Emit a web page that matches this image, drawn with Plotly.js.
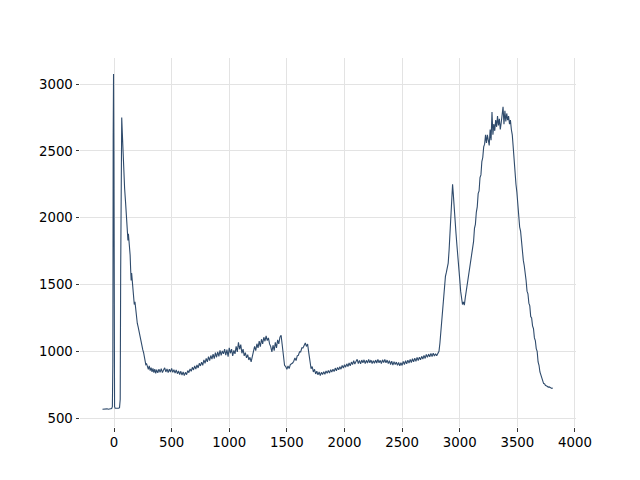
<!DOCTYPE html>
<html>
<head>
<meta charset="utf-8">
<script src="https://cdn.plot.ly/plotly-3.0.1.min.js"></script>
<style>html,body{margin:0;padding:0;background:#fff;}#chart{width:640px;height:480px;}</style>
</head>
<body>
<div id="chart"></div>
<script>
const wavenumber = [
-100,-90,-80,-70,-60,-50,-40,-30,-20,-14,
-10,-7,-4,-1,2,5,10,20,30,40,
48,54,58,62,67,72,78,85,92,100,
108,114,118,121,125,129,134,140,145,149,
153,158,164,170,176,182,188,195,202,210,
218,226,234,242,250,257,264,270,276,283,
290,298,306,314,322,330,338,346,354,362,
370,380,390,400,410,420,430,440,450,460,
470,480,490,500,510,520,530,540,550,560,
570,580,590,600,610,620,630,640,650,660,
670,680,690,700,710,720,730,740,750,760,
770,780,790,800,810,820,830,840,850,860,
870,880,890,900,910,920,930,940,950,960,
970,980,990,1000,1010,1020,1030,1040,1050,1060,
1070,1080,1090,1100,1110,1120,1130,1140,1150,1160,
1170,1180,1190,1200,1210,1220,1230,1240,1250,1260,
1270,1280,1290,1300,1310,1320,1330,1340,1350,1360,
1370,1380,1390,1400,1410,1420,1430,1440,1450,1458,
1465,1472,1480,1490,1500,1510,1520,1530,1540,1550,
1560,1570,1580,1590,1600,1610,1620,1630,1640,1650,
1660,1670,1680,1690,1700,1710,1720,1730,1740,1750,
1760,1770,1780,1790,1800,1810,1820,1830,1840,1850,
1860,1870,1880,1890,1900,1910,1920,1930,1940,1950,
1960,1970,1980,1990,2000,2010,2020,2030,2040,2050,
2060,2070,2080,2090,2100,2110,2120,2130,2140,2150,
2160,2170,2180,2190,2200,2210,2220,2230,2240,2250,
2260,2270,2280,2290,2300,2310,2320,2330,2340,2350,
2360,2370,2380,2390,2400,2410,2420,2430,2440,2450,
2460,2470,2480,2490,2500,2510,2520,2530,2540,2550,
2560,2570,2580,2590,2600,2610,2620,2630,2640,2650,
2660,2670,2680,2690,2700,2710,2720,2730,2740,2750,
2760,2770,2780,2790,2800,2810,2820,2828,2836,2844,
2852,2860,2868,2876,2884,2892,2900,2908,2914,2920,
2926,2932,2938,2944,2950,2956,2962,2968,2976,2984,
2992,3000,3008,3016,3024,3032,3040,3048,3056,3064,
3072,3080,3088,3096,3104,3112,3120,3128,3136,3144,
3152,3160,3168,3176,3184,3192,3200,3208,3216,3224,
3232,3240,3248,3256,3264,3272,3280,3288,3296,3304,
3312,3320,3328,3336,3344,3352,3360,3368,3376,3384,
3392,3400,3408,3416,3424,3432,3440,3448,3456,3464,
3472,3480,3488,3496,3504,3512,3520,3528,3536,3544,
3552,3560,3568,3576,3584,3592,3600,3608,3616,3624,
3632,3640,3648,3656,3664,3672,3680,3688,3696,3704,
3712,3720,3728,3736,3744,3752,3760,3768,3776,3784,
3792,3800,3808
];
const intensity = [
566,568,565,567,569,566,568,570,572,585,
900,2600,3075,2500,900,585,574,572,575,573,
578,640,1600,2500,2750,2640,2480,2340,2220,2120,
2030,1950,1860,1830,1880,1845,1790,1720,1600,1530,
1585,1520,1460,1410,1350,1370,1310,1250,1210,1180,
1140,1110,1080,1050,1010,990,950,925,900,905,
880,865,890,855,878,845,872,840,866,835,
862,838,865,842,870,840,860,876,845,868,
840,865,845,872,842,862,836,860,832,852,
826,850,822,845,818,842,825,855,840,868,
850,880,860,890,866,898,875,910,890,918,
895,935,910,946,920,960,930,968,942,978,
945,990,955,996,962,1006,970,1002,980,1016,
970,1012,960,1026,985,1016,965,1006,980,1036,
995,1066,1015,1050,985,1016,965,990,950,975,
935,955,920,965,985,1036,1005,1056,1025,1076,
1035,1090,1055,1105,1075,1115,1080,1100,1055,1035,
995,1045,1005,1066,1025,1085,1055,1105,1120,1060,
1000,950,895,885,865,890,870,900,905,912,
925,950,930,966,970,996,995,1026,1025,1050,
1062,1036,1054,990,930,870,885,845,865,830,
850,823,845,818,842,826,846,828,852,835,
857,836,862,844,866,848,874,854,879,861,
884,866,894,874,899,881,906,886,912,891,
919,901,929,904,924,939,908,932,906,934,
914,936,908,932,911,939,914,934,908,930,
910,934,912,939,914,932,908,936,916,938,
914,934,908,930,901,926,896,922,900,919,
894,916,891,914,894,924,901,929,906,934,
911,939,916,944,921,949,924,954,931,956,
936,962,941,969,946,976,954,979,958,984,
961,986,964,982,966,989,1000,1060,1150,1250,
1350,1440,1500,1560,1590,1620,1660,1760,1880,2000,
2100,2180,2250,2180,2080,1980,1900,1880,1790,1720,
1630,1540,1450,1370,1350,1370,1345,1400,1450,1500,
1530,1600,1610,1700,1720,1800,1820,1920,1950,2040,
2080,2180,2200,2300,2320,2420,2450,2530,2550,2620,
2560,2620,2590,2540,2660,2580,2790,2620,2700,2650,
2730,2680,2760,2690,2740,2660,2710,2760,2830,2700,
2800,2720,2780,2730,2760,2700,2730,2660,2620,2530,
2420,2350,2250,2190,2080,2030,1930,1900,1800,1780,
1680,1640,1550,1530,1450,1430,1360,1340,1260,1250,
1190,1170,1100,1080,1020,1000,920,895,845,820,
790,772,758,757,743,742,736,732,733,727,
728,722,726
];
const xTicks = [0,500,1000,1500,2000,2500,3000,3500,4000];
const yTicks = [500,1000,1500,2000,2500,3000];

const font = {family: "DejaVu Sans, sans-serif", size: 13.3, color: "#000"};
const axisCommon = {
  showline: false, zeroline: false, showgrid: true,
  gridcolor: "#e3e3e3", gridwidth: 1,
  ticks: "outside", ticklen: 3.5, tickwidth: 0.8, tickcolor: "#000",
  tickmode: "array", tickfont: font
};
Plotly.newPlot("chart", [{
  x: wavenumber, y: intensity, type: "scatter", mode: "lines",
  line: {color: "#2f4b6c", width: 1.1}, hoverinfo: "skip"
}], {
  width: 640, height: 480,
  margin: {l: 80, r: 64, t: 58, b: 53, pad: 0},
  paper_bgcolor: "#fff", plot_bgcolor: "#fff",
  showlegend: false, font: font,
  xaxis: Object.assign({}, axisCommon, {range: [-295, 4009], tickvals: xTicks, ticktext: xTicks.map(String)}),
  yaxis: Object.assign({}, axisCommon, {range: [433, 3195], tickvals: yTicks, ticktext: yTicks.map(String)})
}, {displayModeBar: false, staticPlot: true});
</script>
</body>
</html>
